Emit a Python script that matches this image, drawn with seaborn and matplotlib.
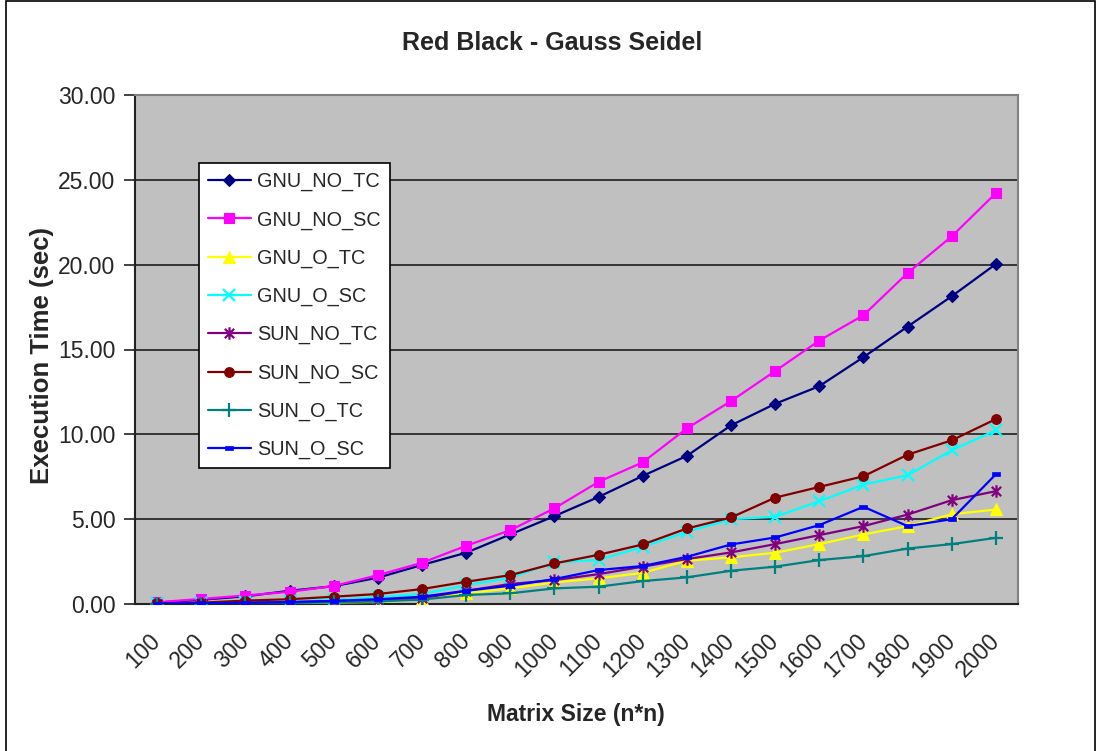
import numpy as np
import pandas as pd
import matplotlib
matplotlib.use("Agg")
import matplotlib.pyplot as plt
from matplotlib.path import Path
from matplotlib.patches import Rectangle
from matplotlib.lines import Line2D
import seaborn as sns

# Matrix sizes (n*n) on the category axis
sizes = [100, 200, 300, 400, 500, 600, 700, 800, 900, 1000,
         1100, 1200, 1300, 1400, 1500, 1600, 1700, 1800, 1900, 2000]

# Execution time in seconds for each compiler / option combination
gnu_no_tc = [0.08, 0.25, 0.45, 0.78, 1.05, 1.55, 2.30, 3.02, 4.10, 5.18,
             6.31, 7.55, 8.73, 10.53, 11.80, 12.84, 14.55, 16.35, 18.14, 20.04]
gnu_no_sc = [0.10, 0.30, 0.50, 0.72, 1.06, 1.70, 2.43, 3.43, 4.35, 5.64,
             7.20, 8.35, 10.35, 11.96, 13.73, 15.53, 17.02, 19.51, 21.67, 24.22]
gnu_o_tc = [0.01, 0.02, 0.03, 0.05, 0.08, 0.12, 0.27, 0.63, 0.92, 1.27,
            1.51, 1.84, 2.55, 2.75, 3.02, 3.53, 4.10, 4.59, 5.29, 5.57]
gnu_o_sc = [0.03, 0.05, 0.10, 0.15, 0.25, 0.40, 0.60, 1.10, 1.55, 2.45,
            2.60, 3.37, 4.25, 5.00, 5.14, 6.06, 7.04, 7.59, 9.06, 10.24]
sun_no_tc = [0.02, 0.04, 0.08, 0.12, 0.18, 0.25, 0.33, 0.78, 1.18, 1.41,
             1.76, 2.20, 2.65, 3.04, 3.53, 4.06, 4.59, 5.27, 6.12, 6.65]
sun_no_sc = [0.04, 0.08, 0.20, 0.28, 0.43, 0.59, 0.88, 1.31, 1.70, 2.39,
             2.90, 3.51, 4.45, 5.10, 6.27, 6.90, 7.53, 8.80, 9.65, 10.90]
sun_o_tc = [0.01, 0.02, 0.04, 0.06, 0.09, 0.15, 0.26, 0.53, 0.63, 0.92,
            1.02, 1.35, 1.57, 1.96, 2.20, 2.59, 2.82, 3.27, 3.53, 3.90]
sun_o_sc = [0.02, 0.04, 0.07, 0.10, 0.18, 0.28, 0.43, 0.78, 1.08, 1.47,
            2.00, 2.24, 2.78, 3.51, 3.92, 4.65, 5.73, 4.59, 5.00, 7.65]

series_names = ["GNU_NO_TC", "GNU_NO_SC", "GNU_O_TC", "GNU_O_SC",
                "SUN_NO_TC", "SUN_NO_SC", "SUN_O_TC", "SUN_O_SC"]
series_values = [gnu_no_tc, gnu_no_sc, gnu_o_tc, gnu_o_sc,
                 sun_no_tc, sun_no_sc, sun_o_tc, sun_o_sc]
y_ticks = [0, 5, 10, 15, 20, 25, 30]

# Custom marker shapes: asterisk (x plus vertical bar) and a flat small box
asterisk = Path([(0, -1), (0, 1), (-0.75, -0.75), (0.75, 0.75), (-0.75, 0.75), (0.75, -0.75)],
                [Path.MOVETO, Path.LINETO, Path.MOVETO, Path.LINETO, Path.MOVETO, Path.LINETO])
flat_box = Path([(-1, -0.55), (1, -0.55), (1, 0.55), (-1, 0.55), (-1, -0.55)],
                [Path.MOVETO, Path.LINETO, Path.LINETO, Path.LINETO, Path.CLOSEPOLY])

styles = {
    "GNU_NO_TC": dict(color="#000080", marker="D", ms=5.8, mew=0.8),
    "GNU_NO_SC": dict(color="#FF00FF", marker="s", ms=7, mew=0.8),
    "GNU_O_TC": dict(color="#FFFF00", marker="^", ms=8, mew=0.8),
    "GNU_O_SC": dict(color="#00FFFF", marker="x", ms=8, mew=1.6),
    "SUN_NO_TC": dict(color="#800080", marker=asterisk, ms=9, mew=1.6),
    "SUN_NO_SC": dict(color="#800000", marker="o", ms=7, mew=0.8),
    "SUN_O_TC": dict(color="#008080", marker="+", ms=10, mew=1.6),
    "SUN_O_SC": dict(color="#0000FF", marker=flat_box, ms=6, mew=0.5),
}

frames = []
for name, vals in zip(series_names, series_values):
    frames.append(pd.DataFrame({"pos": np.arange(len(sizes)), "time": vals, "series": name}))
df = pd.concat(frames, ignore_index=True)

sns.set_theme(style="white")
plt.rcParams["font.family"] = ["Liberation Sans", "DejaVu Sans"]

fig = plt.figure(figsize=(10.98, 7.51), dpi=100)
ax = fig.add_axes([135 / 1098, 1 - 604 / 751, (1018 - 135) / 1098, (604 - 95) / 751])
ax.set_facecolor("#C0C0C0")

for name in series_names:
    st = styles[name]
    sub = df[df["series"] == name]
    sns.lineplot(data=sub, x="pos", y="time", ax=ax, color=st["color"], lw=1.6,
                 marker=st["marker"], markersize=st["ms"], markeredgewidth=st["mew"],
                 markeredgecolor=st["color"], markerfacecolor=st["color"],
                 legend=False, zorder=3)

ax.set_xlim(-0.5, len(sizes) - 0.5)
ax.set_ylim(0, 30)
ax.set_yticks(y_ticks)
ax.set_yticklabels([f"{v:.2f}" for v in y_ticks], fontsize=16.5)
ax.yaxis.grid(True, color="#2a2a2a", lw=1.3)
ax.xaxis.grid(False)
ax.set_axisbelow(True)

# category labels at centres, tick marks at the category boundaries
ax.set_xticks(np.arange(len(sizes)))
ax.set_xticklabels([str(s) for s in sizes], rotation=45, ha="right",
                   va="center", rotation_mode="anchor", fontsize=16.5)
ax.set_xticks(np.arange(-0.5, len(sizes)), minor=True)
ax.tick_params(axis="x", which="major", length=0, pad=24)
ax.tick_params(axis="x", which="minor", length=8, width=1.2, color="#222222", direction="out")
ax.tick_params(axis="y", which="major", length=8, width=1.2, color="#222222",
               direction="out", pad=6, left=True)
ax.set_xlabel("")
ax.set_ylabel("")

for side in ["top", "right"]:
    ax.spines[side].set_color("#808080")
    ax.spines[side].set_linewidth(1.5)
for side in ["left", "bottom"]:
    ax.spines[side].set_color("#222222")
    ax.spines[side].set_linewidth(1.5)

handles = []
for name in series_names:
    st = styles[name]
    handles.append(Line2D([0], [0], color=st["color"], lw=1.6, marker=st["marker"],
                          markersize=st["ms"], markeredgewidth=st["mew"],
                          markeredgecolor=st["color"], markerfacecolor=st["color"]))
leg = ax.legend(handles, series_names, loc="upper left",
                bbox_to_anchor=((199 - 135) / (1018 - 135), (604 - 163) / (604 - 95)),
                borderaxespad=0, fontsize=14.3, frameon=True, fancybox=False,
                framealpha=1, edgecolor="black", facecolor="white",
                handlelength=2.17, handletextpad=0.3, labelspacing=0.96,
                borderpad=0.45)
leg.get_frame().set_linewidth(1.2)

fig.text(552 / 1098, 1 - 43 / 751, "Red Black - Gauss Seidel", ha="center",
         va="center", fontsize=18, fontweight="bold")
fig.text(576 / 1098, 1 - 715 / 751, "Matrix Size (n*n)", ha="center",
         va="center", fontsize=16.5, fontweight="bold")
fig.text(42 / 1098, 1 - 355 / 751, "Execution Time (sec)", ha="center",
         va="center", rotation=90, fontsize=18.5, fontweight="bold")

# outer chart frame
fig.patches.append(Rectangle((5.5 / 1098, -0.05), 1089 / 1098, 1.05 - 1.5 / 751,
                             transform=fig.transFigure, fill=False,
                             edgecolor="black", lw=1.2))

fig.savefig("out.png", dpi=100)
